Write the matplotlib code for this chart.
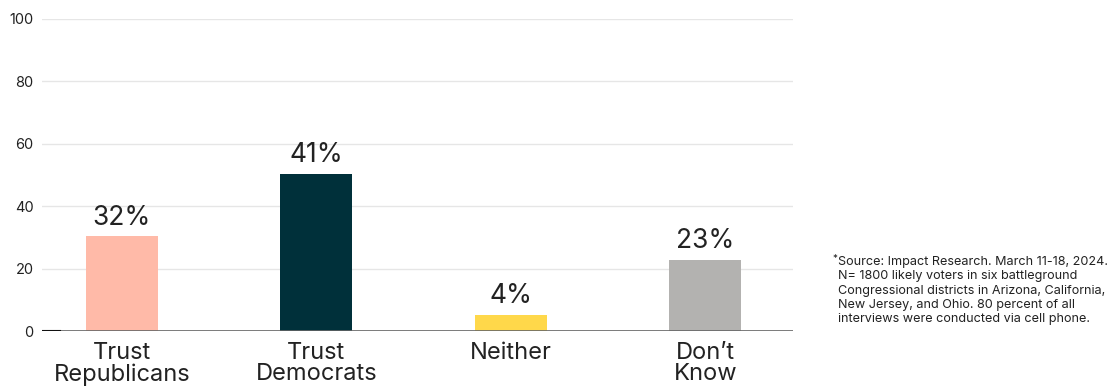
import matplotlib.pyplot as plt

plt.rcParams['font.family'] = ['Inter', 'DejaVu Sans']

# Data
categories = ['Trust\nRepublicans', 'Trust\nDemocrats', 'Neither', 'Don\u2019t\nKnow']
bar_heights = [30.4, 50.3, 5.1, 22.8]
value_labels = ['32%', '41%', '4%', '23%']
colors = ['#FFBAA8', '#00303A', '#FFD84A', '#B3B2B0']
yticks = [0, 20, 40, 60, 80, 100]

footnote = ("Source: Impact Research. March 11-18, 2024.\n"
            "N= 1800 likely voters in six battleground\n"
            "Congressional districts in Arizona, California,\n"
            "New Jersey, and Ohio. 80 percent of all\n"
            "interviews were conducted via cell phone.")

text_color = '#222222'

fig = plt.figure(figsize=(11.16, 3.87), dpi=100)
ax = fig.add_axes([0.0376, 0.1447, 0.6730, 0.8063])

x = list(range(len(categories)))
ax.bar(x, bar_heights, width=0.37, color=colors, zorder=3)

for xi, h, lab in zip(x, bar_heights, value_labels):
    ax.text(xi, h + 1.8, lab, ha='center', va='bottom', fontsize=19,
            color=text_color, zorder=4)

ax.set_xlim(-0.41, 3.45)
ax.set_ylim(0, 100)
ax.set_yticks(yticks)
ax.set_yticklabels([str(t) for t in yticks], fontsize=10.5, color=text_color)
ax.set_xticks(x)
ax.set_xticklabels(categories, fontsize=17, color=text_color, linespacing=0.95)
ax.tick_params(axis='y', length=0, pad=6)
ax.tick_params(axis='x', length=0, pad=8)

ax.grid(axis='y', color='#E6E6E6', linewidth=1, zorder=0)
for s in ax.spines.values():
    s.set_visible(False)
ax.axhline(0, color='#666666', linewidth=1.2, zorder=5)
ax.axhline(0, xmin=0, xmax=0.024, color='#111111', linewidth=1.5, zorder=6)

fig.text(0.7455, 0.343, '*', fontsize=7, color=text_color, va='top')
fig.text(0.7505, 0.338, footnote, fontsize=9.1, color=text_color, va='top',
         linespacing=1.24)

fig.savefig('out.png', dpi=100)
